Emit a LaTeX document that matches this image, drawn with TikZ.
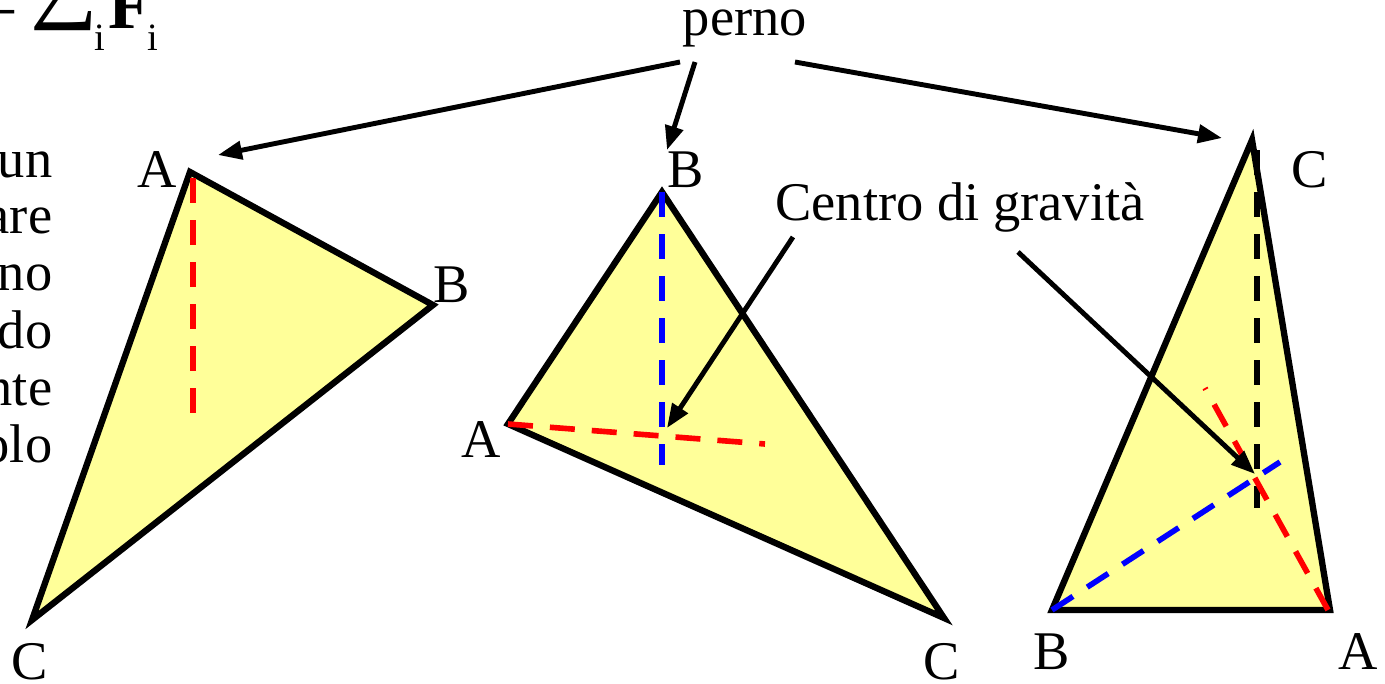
\documentclass[tikz,border=0pt]{standalone}
\usepackage{fontspec}
\setmainfont{Liberation Serif}
\usetikzlibrary{arrows.meta}
\definecolor{paleyellow}{RGB}{255,255,153}
\newcommand{\subi}{\raisebox{-0.7ex}{\fontsize{11}{12}\selectfont i}}
\tikzset{
  tri/.style={draw, line width=1.8pt, fill=paleyellow, line join=miter},
  dline/.style={line width=1.6pt, dash pattern=on 0.25cm off 0.17cm},
  lbl/.style={inner sep=0pt, font=\fontsize{15.5}{18}\selectfont},
  arr/.style={->, line width=1.4pt}
}
\begin{document}
\begin{tikzpicture}[>={Triangle[length=0.24cm,width=0.18cm]}]
    \useasboundingbox (0,0) rectangle (13.85,6.83);
    \clip (0,0) rectangle (13.85,6.83);

    % Formula and text cut at the left edge
    \node[inner sep=0pt, anchor=base west, font=\fontsize{20}{24}\selectfont] (sumF) at (-0.22,6.55)
        {=\,\raisebox{0.55ex}{\fontsize{27}{30}\selectfont ∑}\kern-1pt\subi\kern1pt\textbf{F}\kern-1pt\subi};
    \foreach \t/\y [count=\k] in {un/5.06, are/4.50, rno/3.93, ndo/3.35, nte/2.78, olo/2.21}
        \node[lbl, anchor=base east] (line\k) at (0.53,\y) {\t};

    % Left triangle
    \coordinate (A1) at (1.90,5.11);
    \coordinate (B1) at (4.33,3.78);
    \coordinate (C1) at (0.32,0.63);
    \draw[tri] (A1) -- (B1) -- (C1) -- cycle;
    \coordinate (h1) at (1.93,5.05);
    \coordinate (h1e) at (1.93,2.55);
    \draw[dline, red] (h1) -- (h1e);
    \node[lbl] (labA1) at (1.57,5.13) {A};
    \node[lbl] (labB1) at (4.52,3.98) {B};
    \node[lbl] (labC1) at (0.30,0.21) {C};

    % Middle triangle
    \coordinate (A2) at (5.08,2.59);
    \coordinate (B2) at (6.62,4.91);
    \coordinate (C2) at (9.44,0.65);
    \draw[tri] (A2) -- (B2) -- (C2) -- cycle;
    \coordinate (h2) at (6.62,2.18);
    \coordinate (m2) at (7.65,2.39);
    \draw[dline, blue] (B2) -- (h2);
    \draw[dline, red] (A2) -- (m2);
    \node[lbl] (labB2) at (6.86,5.13) {B};
    \node[lbl] (labA2) at (4.81,2.43) {A};
    \node[lbl] (labC2) at (9.42,0.21) {C};

    % Right triangle
    \coordinate (C3) at (12.52,5.43);
    \coordinate (B3) at (10.52,0.73);
    \coordinate (A3) at (13.30,0.73);
    \draw[tri] (C3) -- (B3) -- (A3) -- cycle;
    \coordinate (h3) at (12.57,5.33);
    \coordinate (h3e) at (12.57,1.75);
    \coordinate (b3e) at (12.80,2.21);
    \coordinate (a3s) at (13.28,0.73);
    \coordinate (a3e) at (12.05,2.95);
    \draw[dline, black] (h3) -- (h3e);
    \draw[dline, blue] (B3) -- (b3e);
    \draw[dline, red] (a3s) -- (a3e);
    \node[lbl] (labC3) at (13.10,5.13) {C};
    \node[lbl] (labB3) at (10.52,0.31) {B};
    \node[lbl] (labA3) at (13.58,0.31) {A};

    % Pivot arrows
    \node[lbl] (perno) at (7.45,6.55) {perno};
    \coordinate (p1) at (6.80,6.21);
    \coordinate (p2) at (6.95,6.21);
    \coordinate (p3) at (7.95,6.21);
    \coordinate (t1) at (2.18,5.28);
    \coordinate (t2) at (6.67,5.33);
    \coordinate (t3) at (12.22,5.45);
    \draw[arr] (p1) -- (t1);
    \draw[arr] (p2) -- (t2);
    \draw[arr] (p3) -- (t3);

    % Centre of gravity arrows
    \node[lbl] (centro) at (9.60,4.76) {Centro di gravità};
    \coordinate (g1) at (7.93,4.46);
    \coordinate (g2) at (10.18,4.31);
    \coordinate (G2) at (6.67,2.55);
    \coordinate (G3) at (12.55,2.09);
    \draw[arr] (g1) -- (G2);
    \draw[arr] (g2) -- (G3);
\end{tikzpicture}
\end{document}
